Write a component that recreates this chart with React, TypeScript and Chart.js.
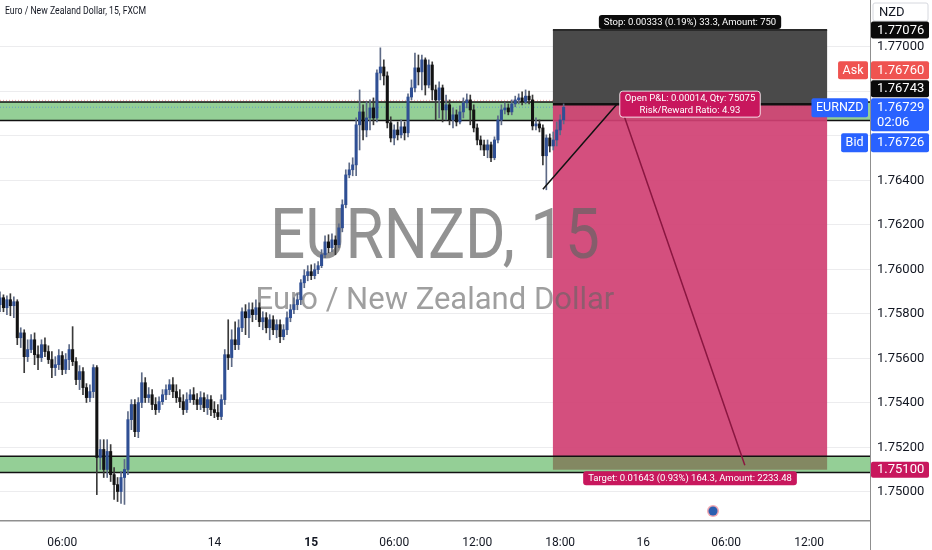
import React, { useEffect, useRef } from 'react';
import { Chart, registerables } from 'chart.js';

Chart.register(...registerables);

const FONT = 'Roboto, "Liberation Sans", Arial, sans-serif';

const OPEN = [
  1.75842, 1.75873, 1.75828, 1.75864, 1.75837, 1.75855, 1.75693, 1.75715, 1.75608, 1.75640,
  1.75684, 1.75617, 1.75604, 1.75662, 1.75631, 1.75595, 1.75559, 1.75572, 1.75613, 1.75550,
  1.75595, 1.75640, 1.75586, 1.75505, 1.75541, 1.75469, 1.75424, 1.75451, 1.75559, 1.75155,
  1.75191, 1.75101, 1.75182, 1.75078, 1.75033, 1.75002, 1.75065, 1.75101, 1.75325, 1.75393,
  1.75271, 1.75402, 1.75491, 1.75424, 1.75437, 1.75393, 1.75370, 1.75406, 1.75437, 1.75460,
  1.75482, 1.75451, 1.75424, 1.75406, 1.75370, 1.75415, 1.75437, 1.75415, 1.75393, 1.75424,
  1.75379, 1.75415, 1.75370, 1.75357, 1.75339, 1.75415, 1.75617, 1.75604, 1.75684, 1.75662,
  1.75738, 1.75810, 1.75783, 1.75819, 1.75797, 1.75828, 1.75765, 1.75783, 1.75738, 1.75774,
  1.75729, 1.75752, 1.75698, 1.75729, 1.75783, 1.75819, 1.75842, 1.75864, 1.75940, 1.75972,
  1.75990, 1.75972, 1.75999, 1.76017, 1.76066, 1.76124, 1.76098, 1.76133, 1.76111, 1.76187,
  1.76291, 1.76425, 1.76448, 1.76470, 1.76650, 1.76708, 1.76627, 1.76681, 1.76726, 1.76681,
  1.76883, 1.76910, 1.76870, 1.76659, 1.76591, 1.76627, 1.76605, 1.76641, 1.76614, 1.76775,
  1.76816, 1.76906, 1.76888, 1.76942, 1.76829, 1.76919, 1.76807, 1.76762, 1.76816, 1.76717,
  1.76740, 1.76672, 1.76695, 1.76663, 1.76708, 1.76749, 1.76762, 1.76717, 1.76636, 1.76582,
  1.76560, 1.76537, 1.76560, 1.76502, 1.76582, 1.76672, 1.76717, 1.76726, 1.76708, 1.76744,
  1.76762, 1.76771, 1.76753, 1.76779, 1.76762, 1.76645, 1.76654, 1.76636, 1.76511, 1.76591,
  1.76555, 1.76582, 1.76627, 1.76672,
];
const HIGH = [
  1.75900, 1.75886, 1.75882, 1.75891, 1.75877, 1.75864, 1.75738, 1.75729, 1.75684, 1.75707,
  1.75715, 1.75657, 1.75684, 1.75693, 1.75657, 1.75631, 1.75608, 1.75640, 1.75631, 1.75622,
  1.75662, 1.75743, 1.75604, 1.75568, 1.75559, 1.75487, 1.75482, 1.75572, 1.75568, 1.75235,
  1.75235, 1.75235, 1.75213, 1.75110, 1.75065, 1.75092, 1.75146, 1.75361, 1.75415, 1.75415,
  1.75424, 1.75536, 1.75514, 1.75469, 1.75460, 1.75424, 1.75428, 1.75460, 1.75482, 1.75505,
  1.75514, 1.75482, 1.75460, 1.75437, 1.75446, 1.75460, 1.75469, 1.75442, 1.75451, 1.75446,
  1.75437, 1.75433, 1.75406, 1.75393, 1.75437, 1.75640, 1.75774, 1.75729, 1.75765, 1.75774,
  1.75828, 1.75842, 1.75850, 1.75850, 1.75864, 1.75850, 1.75810, 1.75806, 1.75797, 1.75792,
  1.75774, 1.75774, 1.75752, 1.75810, 1.75842, 1.75873, 1.75891, 1.75954, 1.75999, 1.76017,
  1.76021, 1.76026, 1.76035, 1.76089, 1.76151, 1.76156, 1.76160, 1.76151, 1.76205, 1.76313,
  1.76448, 1.76479, 1.76502, 1.76681, 1.76807, 1.76740, 1.76753, 1.76762, 1.76771, 1.76897,
  1.76996, 1.76942, 1.76888, 1.76686, 1.76650, 1.76663, 1.76672, 1.76663, 1.76789, 1.76852,
  1.76973, 1.76964, 1.76964, 1.76951, 1.76942, 1.76933, 1.76829, 1.76843, 1.76829, 1.76784,
  1.76762, 1.76726, 1.76717, 1.76735, 1.76771, 1.76789, 1.76784, 1.76740, 1.76654, 1.76600,
  1.76582, 1.76582, 1.76573, 1.76596, 1.76690, 1.76740, 1.76749, 1.76744, 1.76762, 1.76779,
  1.76789, 1.76798, 1.76807, 1.76802, 1.76784, 1.76681, 1.76672, 1.76650, 1.76605, 1.76609,
  1.76618, 1.76663, 1.76695, 1.76744,
];
const LOW = [
  1.75810, 1.75810, 1.75797, 1.75792, 1.75783, 1.75662, 1.75649, 1.75536, 1.75586, 1.75626,
  1.75572, 1.75550, 1.75586, 1.75608, 1.75577, 1.75514, 1.75523, 1.75550, 1.75527, 1.75532,
  1.75550, 1.75568, 1.75482, 1.75460, 1.75437, 1.75402, 1.75406, 1.75424, 1.74988, 1.75101,
  1.75065, 1.75065, 1.75047, 1.74966, 1.74957, 1.74948, 1.74944, 1.75078, 1.75280, 1.75249,
  1.75244, 1.75379, 1.75402, 1.75402, 1.75370, 1.75348, 1.75357, 1.75393, 1.75415, 1.75437,
  1.75424, 1.75402, 1.75379, 1.75348, 1.75357, 1.75402, 1.75393, 1.75370, 1.75370, 1.75361,
  1.75348, 1.75343, 1.75334, 1.75325, 1.75325, 1.75393, 1.75550, 1.75563, 1.75640, 1.75640,
  1.75720, 1.75707, 1.75693, 1.75765, 1.75774, 1.75743, 1.75729, 1.75715, 1.75684, 1.75707,
  1.75693, 1.75671, 1.75684, 1.75707, 1.75765, 1.75801, 1.75819, 1.75842, 1.75918, 1.75949,
  1.75954, 1.75958, 1.75981, 1.76008, 1.76053, 1.76075, 1.76080, 1.76066, 1.76098, 1.76169,
  1.76277, 1.76412, 1.76421, 1.76421, 1.76537, 1.76582, 1.76596, 1.76627, 1.76650, 1.76663,
  1.76852, 1.76829, 1.76636, 1.76573, 1.76560, 1.76582, 1.76591, 1.76582, 1.76596, 1.76762,
  1.76798, 1.76829, 1.76807, 1.76784, 1.76816, 1.76762, 1.76672, 1.76681, 1.76663, 1.76672,
  1.76650, 1.76636, 1.76645, 1.76654, 1.76681, 1.76726, 1.76650, 1.76618, 1.76560, 1.76537,
  1.76511, 1.76502, 1.76484, 1.76493, 1.76569, 1.76650, 1.76699, 1.76695, 1.76695, 1.76731,
  1.76744, 1.76740, 1.76744, 1.76744, 1.76627, 1.76627, 1.76618, 1.76470, 1.76358, 1.76528,
  1.76537, 1.76555, 1.76605, 1.76654,
];
const CLOSE = [
  1.75873, 1.75828, 1.75864, 1.75837, 1.75855, 1.75693, 1.75715, 1.75608, 1.75640, 1.75684,
  1.75617, 1.75604, 1.75662, 1.75631, 1.75595, 1.75559, 1.75572, 1.75613, 1.75550, 1.75595,
  1.75640, 1.75586, 1.75505, 1.75541, 1.75469, 1.75424, 1.75451, 1.75559, 1.75155, 1.75191,
  1.75101, 1.75182, 1.75078, 1.75033, 1.75002, 1.75065, 1.75101, 1.75325, 1.75393, 1.75271,
  1.75402, 1.75491, 1.75424, 1.75437, 1.75393, 1.75370, 1.75406, 1.75437, 1.75460, 1.75482,
  1.75451, 1.75424, 1.75406, 1.75370, 1.75415, 1.75437, 1.75415, 1.75393, 1.75424, 1.75379,
  1.75415, 1.75370, 1.75357, 1.75339, 1.75415, 1.75617, 1.75604, 1.75684, 1.75662, 1.75738,
  1.75810, 1.75783, 1.75819, 1.75797, 1.75828, 1.75765, 1.75783, 1.75738, 1.75774, 1.75729,
  1.75752, 1.75698, 1.75729, 1.75783, 1.75819, 1.75842, 1.75864, 1.75940, 1.75972, 1.75990,
  1.75972, 1.75999, 1.76017, 1.76066, 1.76124, 1.76098, 1.76133, 1.76111, 1.76187, 1.76291,
  1.76425, 1.76448, 1.76470, 1.76650, 1.76708, 1.76627, 1.76681, 1.76726, 1.76681, 1.76883,
  1.76910, 1.76870, 1.76659, 1.76591, 1.76627, 1.76605, 1.76641, 1.76614, 1.76775, 1.76816,
  1.76906, 1.76888, 1.76942, 1.76829, 1.76919, 1.76807, 1.76762, 1.76816, 1.76717, 1.76740,
  1.76672, 1.76695, 1.76663, 1.76708, 1.76749, 1.76762, 1.76717, 1.76636, 1.76582, 1.76560,
  1.76537, 1.76560, 1.76502, 1.76582, 1.76672, 1.76717, 1.76726, 1.76708, 1.76744, 1.76762,
  1.76771, 1.76753, 1.76779, 1.76762, 1.76645, 1.76654, 1.76636, 1.76511, 1.76591, 1.76555,
  1.76582, 1.76627, 1.76672, 1.76729,
];

const PRICE_TICKS = [1.75, 1.752, 1.754, 1.756, 1.758, 1.76, 1.762, 1.764, 1.766, 1.768, 1.77];
const TIME_TICKS = [18, 62, 90, 114, 138, 162, 186, 210, 234];
const TIME_LABELS = ['06:00', '14', '15', '06:00', '12:00', '18:00', '16', '06:00', '12:00'];
const TIME_BOLD = [false, false, true, false, false, false, false, false, false];

const UPPER_ZONE = [1.76753, 1.76669];
const LOWER_ZONE = [1.7516, 1.75088];
const POSITION_RANGE = [159.9, 239.2];
const POSITION_PRICES = [1.77076, 1.76743, 1.751]; // stop, entry, target
const TREND_LINE_X = [157.0, 178.4];
const TREND_LINE_Y = [1.7636, 1.76743];
const TARGET_PATH_X = [179.9, 215.4];
const TARGET_PATH_Y = [1.76717, 1.7512];
const EVENT_X = [206.2];
const QUOTES = [1.7676, 1.76729, 1.76726]; // ask, last, bid

const STOP_TEXT = 'Stop: 0.00333 (0.19%) 33.3, Amount: 750';
const PNL_TEXT = ['Open P&L: 0.00014, Qty: 75075', 'Risk/Reward Ratio: 4.93'];
const TARGET_TEXT = 'Target: 0.01643 (0.93%) 164.3, Amount: 2233.48';
const TITLE = 'Euro / New Zealand Dollar, 15, FXCM';
const WATERMARK = ['EURNZD, 15', 'Euro / New Zealand Dollar'];
const COUNTDOWN = '02:06';
const SYMBOL = 'EURNZD';
const CURRENCY = 'NZD';

const UP_BODY = '#2f4f94';
const DOWN_BODY = '#121212';
const PINK = '#c8175d';
const BLUE = '#2962ff';
const RED = '#ef5350';

function rbox(ctx: CanvasRenderingContext2D, x: number, y: number, w: number, h: number, fill: string, stroke?: string, r = 2) {
  ctx.beginPath();
  (ctx as any).roundRect(x, y, w, h, r);
  ctx.fillStyle = fill;
  ctx.fill();
  if (stroke) {
    ctx.strokeStyle = stroke;
    ctx.lineWidth = 1;
    ctx.stroke();
  }
}

function hline(ctx: CanvasRenderingContext2D, x1: number, x2: number, y: number, color: string, w: number, dash: number[] = []) {
  ctx.beginPath();
  ctx.setLineDash(dash);
  ctx.strokeStyle = color;
  ctx.lineWidth = w;
  ctx.moveTo(x1, y);
  ctx.lineTo(x2, y);
  ctx.stroke();
  ctx.setLineDash([]);
}

function labelBox(ctx: CanvasRenderingContext2D, cx: number, cy: number, lines: string[], bg: string, border?: string) {
  ctx.font = `9.5px ${FONT}`;
  const w = Math.max(...lines.map((l) => ctx.measureText(l).width)) + 10;
  const lh = 12;
  const h = lines.length * lh + 2;
  rbox(ctx, cx - w / 2, cy - h / 2, w, h, bg, border, 3);
  ctx.fillStyle = '#ffffff';
  ctx.textAlign = 'center';
  ctx.textBaseline = 'middle';
  lines.forEach((l, i) => ctx.fillText(l, cx, cy - h / 2 + 1 + lh * i + lh / 2 + 0.5));
}

const overlay = {
  id: 'overlay',
  beforeDatasetsDraw(chart: any) {
    const { ctx, chartArea: a, scales } = chart;
    const x = scales.x;
    const y = scales.y;
    ctx.save();
    ctx.beginPath();
    ctx.rect(a.left, a.top, a.right - a.left, a.bottom - a.top);
    ctx.clip();
    const W = a.right - a.left;

    // upper zone
    const u1 = y.getPixelForValue(UPPER_ZONE[0]);
    const u2 = y.getPixelForValue(UPPER_ZONE[1]);
    ctx.fillStyle = 'rgba(76,175,80,0.6)';
    ctx.fillRect(a.left, u1, W, u2 - u1);
    hline(ctx, a.left, a.right, u1, '#111', 1.5);
    hline(ctx, a.left, a.right, u2, '#111', 1.5);

    // quote lines
    hline(ctx, a.left, a.right, y.getPixelForValue(QUOTES[0]), 'rgba(239,83,80,0.55)', 1, [1, 2]);
    hline(ctx, a.left, a.right, y.getPixelForValue(QUOTES[1]), 'rgba(41,98,255,0.45)', 1, [1, 2]);

    // position tool
    const px1 = x.getPixelForValue(POSITION_RANGE[0]);
    const px2 = x.getPixelForValue(POSITION_RANGE[1]);
    const sy = y.getPixelForValue(POSITION_PRICES[0]);
    const ey = y.getPixelForValue(POSITION_PRICES[1]);
    const ty = y.getPixelForValue(POSITION_PRICES[2]);
    ctx.fillStyle = '#4a4a4a';
    ctx.fillRect(px1, sy, px2 - px1, ey - sy);
    ctx.fillStyle = 'rgba(208,64,115,0.92)';
    ctx.fillRect(px1, ey, px2 - px1, ty - ey);
    hline(ctx, px1, px2, sy, '#2a2a2a', 2);
    hline(ctx, px1, px2, ey, '#111', 2.5);

    // lower zone
    const l1 = y.getPixelForValue(LOWER_ZONE[0]);
    const l2 = y.getPixelForValue(LOWER_ZONE[1]);
    ctx.fillStyle = 'rgba(76,175,80,0.6)';
    ctx.fillRect(a.left, l1, W, l2 - l1);
    hline(ctx, a.left, a.right, l1, '#111', 1.5);
    hline(ctx, a.left, a.right, l2, '#111', 1.5);

    // watermark
    const cx = (a.left + a.right) / 2;
    const cy = (a.top + a.bottom) / 2;
    ctx.textAlign = 'center';
    ctx.textBaseline = 'alphabetic';
    ctx.save();
    ctx.translate(cx, cy - 2);
    ctx.scale(1, 1.14);
    ctx.fillStyle = 'rgba(100,100,100,0.7)';
    ctx.font = `62px ${FONT}`;
    ctx.fillText(WATERMARK[0], 0, 0);
    ctx.restore();
    ctx.fillStyle = 'rgba(100,100,100,0.62)';
    ctx.font = `31px ${FONT}`;
    ctx.fillText(WATERMARK[1], cx, cy + 49);
    ctx.restore();
  },
  afterDatasetsDraw(chart: any) {
    const { ctx, chartArea: a, scales } = chart;
    const x = scales.x;
    const y = scales.y;
    ctx.save();
    ctx.beginPath();
    ctx.rect(a.left, a.top, a.right - a.left, a.bottom - a.top);
    ctx.clip();

    ctx.lineWidth = 1.5;
    ctx.strokeStyle = '#111';
    ctx.beginPath();
    ctx.moveTo(x.getPixelForValue(TREND_LINE_X[0]), y.getPixelForValue(TREND_LINE_Y[0]));
    ctx.lineTo(x.getPixelForValue(TREND_LINE_X[1]), y.getPixelForValue(TREND_LINE_Y[1]));
    ctx.stroke();

    ctx.strokeStyle = '#8a1640';
    ctx.beginPath();
    ctx.moveTo(x.getPixelForValue(TARGET_PATH_X[0]), y.getPixelForValue(TARGET_PATH_Y[0]));
    ctx.lineTo(x.getPixelForValue(TARGET_PATH_X[1]), y.getPixelForValue(TARGET_PATH_Y[1]));
    ctx.stroke();

    const mid = (x.getPixelForValue(POSITION_RANGE[0]) + x.getPixelForValue(POSITION_RANGE[1])) / 2;
    const sy = y.getPixelForValue(POSITION_PRICES[0]);
    const ey = y.getPixelForValue(POSITION_PRICES[1]);
    const ty = y.getPixelForValue(POSITION_PRICES[2]);
    labelBox(ctx, mid, sy - 8, [STOP_TEXT], '#0c0c0c');
    labelBox(ctx, mid, ey, PNL_TEXT, PINK, 'rgba(255,255,255,0.85)');
    labelBox(ctx, mid, ty + 8.5, [TARGET_TEXT], PINK);

    // event marker
    const ex = x.getPixelForValue(EVENT_X[0]);
    const eyy = a.bottom - 9;
    ctx.beginPath();
    ctx.arc(ex, eyy, 6, 0, Math.PI * 2);
    ctx.fillStyle = '#f2a7b0';
    ctx.fill();
    ctx.beginPath();
    ctx.arc(ex, eyy, 4.5, 0, Math.PI * 2);
    ctx.fillStyle = '#2b5fb0';
    ctx.fill();
    ctx.restore();
  },
  afterDraw(chart: any) {
    const { ctx, chartArea: a, scales } = chart;
    const y = scales.y;
    const W = chart.width;
    const H = chart.height;
    ctx.save();

    // axis borders
    ctx.strokeStyle = '#8f8f8f';
    ctx.lineWidth = 1;
    ctx.beginPath();
    ctx.moveTo(a.right + 0.5, 0);
    ctx.lineTo(a.right + 0.5, H);
    ctx.stroke();
    ctx.lineWidth = 1.5;
    ctx.beginPath();
    ctx.moveTo(0, a.bottom + 0.75);
    ctx.lineTo(a.right, a.bottom + 0.75);
    ctx.stroke();

    // title
    ctx.save();
    ctx.translate(5, 11);
    ctx.scale(0.87, 1);
    ctx.font = `10px ${FONT}`;
    ctx.fillStyle = '#131722';
    ctx.textAlign = 'left';
    ctx.textBaseline = 'middle';
    ctx.fillText(TITLE, 0, 0);
    ctx.restore();

    const ax = a.right + 1;
    const bw = W - ax - 3;
    const tx = ax + 6;
    const tag = (text: string[], top: number, h: number, bg: string, fg = '#fff') => {
      rbox(ctx, ax, top, bw, h, bg, undefined, 2);
      ctx.fillStyle = fg;
      ctx.textAlign = 'left';
      ctx.textBaseline = 'middle';
      ctx.font = `13px ${FONT}`;
      if (text.length === 1) ctx.fillText(text[0], tx, top + h / 2 + 0.5);
      else {
        ctx.fillText(text[0], tx, top + 9.5);
        ctx.fillText(text[1], tx, top + 25);
      }
    };
    const leftTag = (text: string, top: number, h: number, bg: string) => {
      ctx.font = `12.5px ${FONT}`;
      const w = ctx.measureText(text).width + 9;
      rbox(ctx, a.right - 2 - w, top, w, h, bg, undefined, 2);
      ctx.fillStyle = '#fff';
      ctx.textAlign = 'center';
      ctx.textBaseline = 'middle';
      ctx.fillText(text, a.right - 2 - w / 2, top + h / 2 + 0.5);
    };

    // currency box
    rbox(ctx, ax + 2, 3, bw - 3, 18, '#ffffff', '#d6d8de', 2);
    ctx.fillStyle = '#131722';
    ctx.font = `13px ${FONT}`;
    ctx.textAlign = 'left';
    ctx.textBaseline = 'middle';
    ctx.fillText(CURRENCY, ax + 8, 12.5);

    // stop price
    const sy = y.getPixelForValue(POSITION_PRICES[0]);
    tag([POSITION_PRICES[0].toFixed(5)], sy - 8.5, 17, '#0a0a0a');

    // last price (stacked tags)
    const ly = y.getPixelForValue(QUOTES[1]);
    const curTop = ly - 9;
    const curH = 33;
    const bidTop = curTop + curH + 2;
    const entryTop = curTop - 1 - 17;
    const askTop = entryTop - 1 - 18;
    ctx.fillStyle = '#ffffff';
    ctx.fillRect(ax, askTop - 1, W - ax, bidTop + 19 + 2 - askTop);
    tag([QUOTES[0].toFixed(5)], askTop, 18, RED);
    leftTag('Ask', askTop, 18, RED);
    tag([POSITION_PRICES[1].toFixed(5)], entryTop, 17, '#0a0a0a');
    tag([QUOTES[1].toFixed(5), COUNTDOWN], curTop, curH, BLUE);
    leftTag(SYMBOL, curTop, 19, BLUE);
    tag([QUOTES[2].toFixed(5)], bidTop, 19, BLUE);
    leftTag('Bid', bidTop, 19, BLUE);

    // target price
    const ty = y.getPixelForValue(POSITION_PRICES[2]);
    tag([POSITION_PRICES[2].toFixed(5)], ty - 8, 16, PINK);
    ctx.restore();
  },
};

export default function App() {
  const ref = useRef<HTMLCanvasElement>(null);
  useEffect(() => {
    const up = CLOSE.map((c, i) => c >= OPEN[i]);
    const bodies = OPEN.map((o, i) => ({ x: i, y: [o, CLOSE[i]] }));
    const wicks = OPEN.map((_, i) => ({ x: i, y: [LOW[i], HIGH[i]] }));
    const chart = new Chart(ref.current as HTMLCanvasElement, {
      type: 'bar',
      data: {
        datasets: [
          {
            data: bodies as any,
            backgroundColor: up.map((u) => (u ? UP_BODY : DOWN_BODY)),
            barThickness: 2.4,
            minBarLength: 1,
            grouped: false,
            borderWidth: 0,
          } as any,
          {
            data: wicks as any,
            backgroundColor: up.map((u) => (u ? '#5d6a86' : '#3a3a3a')),
            barThickness: 1,
            grouped: false,
            borderWidth: 0,
          } as any,
        ],
      },
      options: {
        responsive: false,
        devicePixelRatio: 1,
        animation: false,
        events: [],
        layout: { padding: 0 },
        plugins: { legend: { display: false }, tooltip: { enabled: false }, title: { display: false } },
        scales: {
          x: {
            type: 'linear',
            min: 0,
            max: 251.6,
            offset: false,
            afterFit: (s: any) => {
              s.height = 30;
              s.paddingLeft = 0;
              s.paddingRight = 0;
            },
            afterBuildTicks: (s: any) => {
              s.ticks = TIME_TICKS.map((v) => ({ value: v }));
            },
            ticks: {
              autoSkip: false,
              maxRotation: 0,
              padding: 8,
              color: '#131722',
              font: (c: any) => ({ family: FONT, size: 12, weight: TIME_BOLD[c.index] ? 'bold' : 'normal' }),
              callback: (_v: any, i: number) => TIME_LABELS[i],
            },
            grid: { display: false },
            border: { display: false },
          },
          y: {
            type: 'linear',
            position: 'right',
            min: 1.74874,
            max: 1.77211,
            afterFit: (s: any) => {
              s.width = 62;
              s.paddingTop = 0;
              s.paddingBottom = 0;
            },
            afterBuildTicks: (s: any) => {
              s.ticks = PRICE_TICKS.map((v) => ({ value: v }));
            },
            ticks: {
              padding: 7,
              color: '#131722',
              font: { family: FONT, size: 13 },
              callback: (v: any) => Number(v).toFixed(5),
            },
            grid: { color: '#ececee', drawTicks: false },
            border: { display: false },
          },
        },
      } as any,
      plugins: [overlay],
    });
    return () => chart.destroy();
  }, []);
  return (
    <div style={{ position: 'fixed', left: 0, top: 0, width: 932, height: 550, background: '#ffffff' }}>
      <canvas ref={ref} width={932} height={550} style={{ display: 'block' }} />
    </div>
  );
}
